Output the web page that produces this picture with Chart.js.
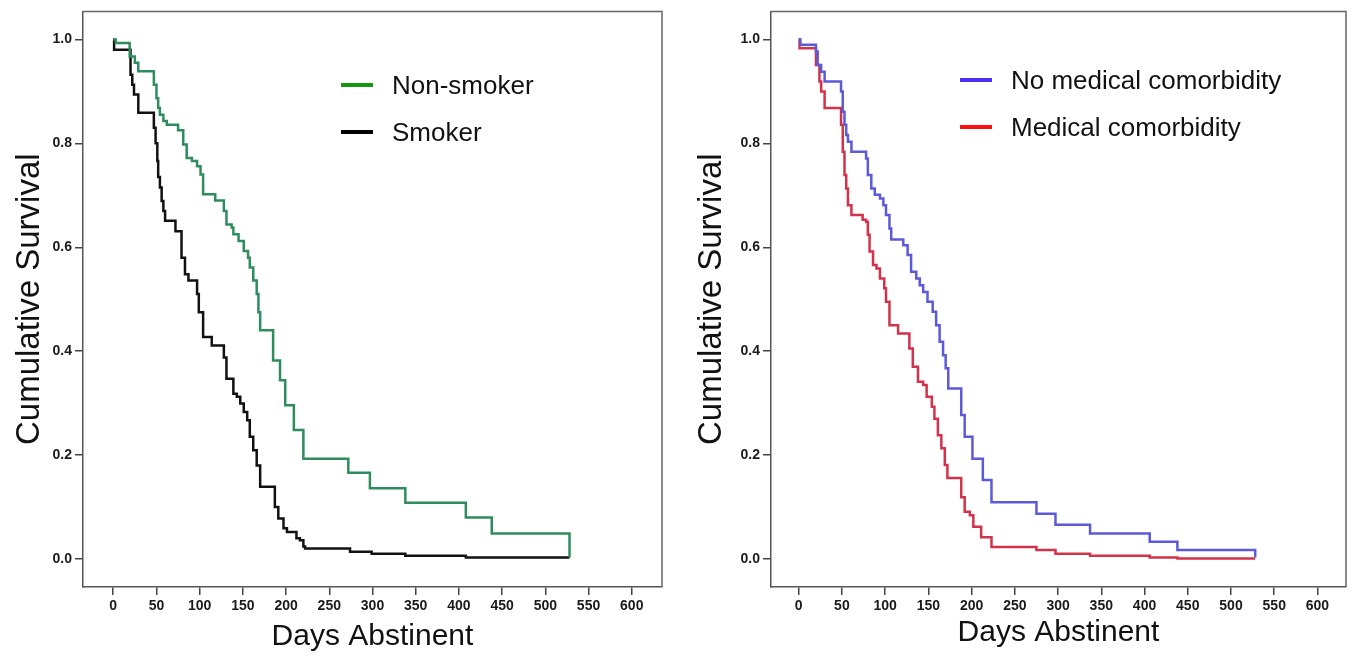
<!DOCTYPE html>
<html>
<head>
<meta charset="utf-8">
<script src="https://cdn.jsdelivr.net/npm/chart.js@4/dist/chart.umd.min.js"></script>
<style>
  body { margin: 0; background: #fff; width: 1355px; height: 658px; overflow: hidden; position: relative; font-family: "Liberation Sans", Arial, sans-serif; }
  .panel { position: absolute; top: 0; }
  .legend { position: absolute; font-size: 26px; color: #111; }
  .legend .row { position: absolute; white-space: nowrap; height: 30px; line-height: 30px; }
  .legend .swatch { position: absolute; left: 0; top: 13px; width: 32px; height: 4px; }
  .legend .label { position: absolute; left: 51px; top: 0; }
</style>
</head>
<body>
<div class="panel" style="left:0"><canvas id="leftChart" width="680" height="658"></canvas></div>
<div class="panel" style="left:680px"><canvas id="rightChart" width="675" height="658"></canvas></div>
<div class="legend" id="leftLegend" style="left:341px; top:70px"></div>
<div class="legend" id="rightLegend" style="left:960px; top:65px"></div>
<script>
// tick labels
const xTicks = [0, 50, 100, 150, 200, 250, 300, 350, 400, 450, 500, 550, 600];
const yTicks = [0.0, 0.2, 0.4, 0.6, 0.8, 1.0];

// left panel: smoking status (days abstinent, cumulative survival after each step)
const nonSmokerDays = [0, 3, 19, 25, 29, 47, 50, 52, 54, 58, 62, 75, 81, 85, 91, 97, 101, 104, 118, 128, 131, 137, 139, 145, 151, 156, 158, 162, 166, 168, 170, 185, 193, 199, 209, 220, 272, 297, 338, 408, 438, 528];
const nonSmokerSurv = [1.0, 0.993, 0.967, 0.955, 0.939, 0.913, 0.887, 0.868, 0.855, 0.843, 0.836, 0.825, 0.798, 0.772, 0.766, 0.756, 0.740, 0.702, 0.690, 0.670, 0.644, 0.638, 0.625, 0.612, 0.593, 0.580, 0.561, 0.536, 0.510, 0.475, 0.440, 0.382, 0.344, 0.296, 0.248, 0.193, 0.166, 0.136, 0.108, 0.080, 0.049, 0.003];

const smokerDays = [0, 1, 20, 22, 24, 29, 47, 49, 51, 52, 54, 56, 58, 60, 72, 79, 83, 87, 97, 99, 104, 114, 128, 131, 139, 143, 147, 151, 155, 158, 162, 166, 170, 187, 191, 197, 201, 212, 216, 220, 222, 274, 299, 338, 408, 528];
const smokerSurv = [1.0, 0.980, 0.932, 0.913, 0.894, 0.859, 0.830, 0.800, 0.766, 0.735, 0.715, 0.689, 0.670, 0.651, 0.631, 0.580, 0.548, 0.536, 0.510, 0.475, 0.427, 0.411, 0.388, 0.347, 0.318, 0.312, 0.299, 0.283, 0.267, 0.235, 0.209, 0.180, 0.139, 0.100, 0.078, 0.059, 0.052, 0.040, 0.036, 0.024, 0.020, 0.014, 0.010, 0.006, 0.003, 0.003];

// right panel: medical comorbidity
const noComorbDays = [0, 2, 20, 22, 26, 30, 49, 51, 53, 55, 57, 61, 78, 80, 84, 88, 94, 98, 101, 105, 107, 121, 126, 130, 136, 140, 144, 149, 155, 159, 163, 167, 170, 173, 188, 192, 201, 213, 223, 275, 297, 337, 406, 438, 528];
const noComorbSurv = [1.0, 0.990, 0.977, 0.951, 0.938, 0.919, 0.900, 0.861, 0.836, 0.816, 0.803, 0.784, 0.771, 0.739, 0.713, 0.701, 0.694, 0.681, 0.662, 0.636, 0.615, 0.604, 0.585, 0.553, 0.540, 0.527, 0.514, 0.495, 0.476, 0.450, 0.418, 0.392, 0.367, 0.328, 0.277, 0.235, 0.193, 0.152, 0.109, 0.087, 0.066, 0.049, 0.033, 0.017, 0.003];

const comorbDays = [0, 1, 20, 24, 26, 30, 49, 51, 53, 55, 57, 61, 74, 78, 80, 82, 86, 90, 94, 99, 101, 105, 115, 128, 132, 138, 144, 148, 154, 157, 161, 165, 169, 172, 188, 192, 198, 202, 211, 223, 275, 297, 337, 406, 438, 528];
const comorbSurv = [1.0, 0.983, 0.951, 0.919, 0.900, 0.868, 0.836, 0.784, 0.739, 0.713, 0.681, 0.662, 0.653, 0.649, 0.624, 0.592, 0.566, 0.559, 0.540, 0.521, 0.495, 0.450, 0.434, 0.405, 0.370, 0.341, 0.335, 0.312, 0.293, 0.270, 0.238, 0.213, 0.181, 0.156, 0.119, 0.091, 0.084, 0.062, 0.042, 0.023, 0.017, 0.010, 0.006, 0.003, 0.001, 0.001];

const FONT = '"Liberation Sans", Arial, sans-serif';

function toPoints(days, surv) {
    return days.map((d, i) => ({ x: d, y: surv[i] }));
}

// draws the top and right sides of the plot box
const framePlugin = {
    id: 'frame',
    afterDraw(chart) {
        const { ctx, chartArea: a } = chart;
        ctx.save();
        ctx.strokeStyle = '#666';
        ctx.lineWidth = 1.5;
        ctx.beginPath();
        ctx.moveTo(a.left, a.top);
        ctx.lineTo(a.right, a.top);
        ctx.lineTo(a.right, a.bottom);
        ctx.stroke();
        ctx.restore();
    }
};

function kmChart(id, series, o) {
    return new Chart(document.getElementById(id), {
        type: 'line',
        data: {
            datasets: series.map(s => ({
                label: s.label,
                data: toPoints(s.days, s.surv),
                borderColor: s.color,
                borderWidth: 2.5,
                stepped: 'before',
                pointRadius: 0,
                fill: false
            }))
        },
        options: {
            responsive: false,
            animation: false,
            layout: { padding: { top: 10, right: o.padRight, left: 0, bottom: 0 } },
            plugins: { legend: { display: false }, tooltip: { enabled: false } },
            scales: {
                x: {
                    type: 'linear',
                    min: o.xMin, max: o.xMax,
                    afterBuildTicks: s => { s.ticks = xTicks.map(v => ({ value: v })); },
                    afterFit: s => { s.height = 71; },
                    ticks: { font: { family: FONT, size: 14, weight: 'bold' }, color: '#1a1a1a', padding: 3, maxRotation: 0, autoSkip: false },
                    grid: { drawOnChartArea: false, drawTicks: true, tickLength: 8, color: '#444', lineWidth: 1.5 },
                    border: { color: '#555', width: 1.5 },
                    title: { display: true, text: 'Days Abstinent', font: { family: FONT, size: 30 }, color: '#111', padding: { top: 0, bottom: o.xTitlePad } }
                },
                y: {
                    min: -0.054, max: 1.054,
                    afterBuildTicks: s => { s.ticks = yTicks.map(v => ({ value: v })); },
                    afterFit: s => { s.width = o.yWidth; },
                    ticks: { font: { family: FONT, size: 14, weight: 'bold' }, color: '#1a1a1a', padding: 3, callback: v => v.toFixed(1) },
                    grid: { drawOnChartArea: false, drawTicks: true, tickLength: 8, color: '#444', lineWidth: 1.5 },
                    border: { color: '#555', width: 1.5 },
                    title: { display: true, text: 'Cumulative Survival', font: { family: FONT, size: 33 }, color: '#111', padding: { top: o.yTitlePad, bottom: 0 } }
                }
            }
        },
        plugins: [framePlugin]
    });
}

kmChart('leftChart', [
    { label: 'Non-smoker', days: nonSmokerDays, surv: nonSmokerSurv, color: '#2f8c5e' },
    { label: 'Smoker', days: smokerDays, surv: smokerSurv, color: '#111111' }
], { xMin: -35, xMax: 635, padRight: 18, yWidth: 83, yTitlePad: 10, xTitlePad: 3 });

kmChart('rightChart', [
    { label: 'No medical comorbidity', days: noComorbDays, surv: noComorbSurv, color: '#5c5ad8' },
    { label: 'Medical comorbidity', days: comorbDays, surv: comorbSurv, color: '#d2324a' }
], { xMin: -32, xMax: 633, padRight: 9, yWidth: 91, yTitlePad: 12, xTitlePad: 7 });

// legends placed inside the plot area
function legend(id, labels, colors) {
    const box = document.getElementById(id);
    labels.forEach((t, i) => {
        const row = document.createElement('div');
        row.className = 'row';
        row.style.top = (i * 47) + 'px';
        row.innerHTML = '<span class="swatch" style="background:' + colors[i] + '"></span><span class="label"></span>';
        row.querySelector('.label').textContent = t;
        box.appendChild(row);
    });
}
legend('leftLegend', ['Non-smoker', 'Smoker'], ['#12990f', '#000']);
legend('rightLegend', ['No medical comorbidity', 'Medical comorbidity'], ['#4b2ff2', '#ff1010']);
</script>
</body>
</html>
